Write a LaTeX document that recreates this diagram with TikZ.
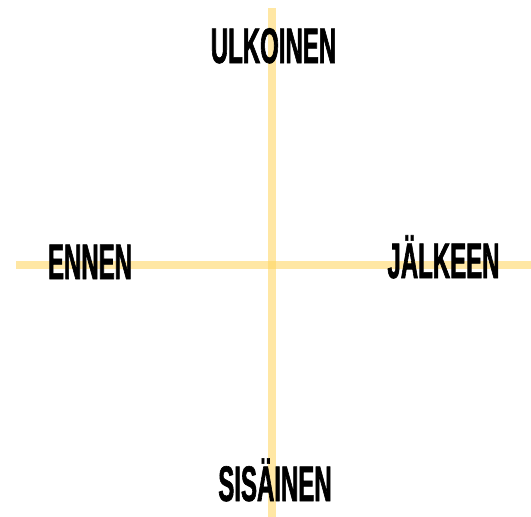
\documentclass[tikz,border=0pt]{standalone}
\usepackage{fontspec}
\usepackage{tikz}
\usetikzlibrary{positioning}
\newfontfamily\axisfont[FakeStretch=0.48,FakeBold=1.2]{Liberation Sans Bold}
\definecolor{axisyellow}{RGB}{255,212,90}

\begin{document}
\begin{tikzpicture}[
    x=1pt, y=-1pt,
    axisline/.style={line width=8pt, draw=axisyellow, draw opacity=0.55},
    pole/.style={font=\axisfont\fontsize{50}{56}\selectfont, text=black,
                 inner sep=0pt, anchor=base}
  ]
    \useasboundingbox (0,0) rectangle (531,517);

    % axis ends
    \coordinate (top)    at (272,8);
    \coordinate (bottom) at (272,517);
    \coordinate (left)   at (16,265);
    \coordinate (right)  at (531,265);

    % axes
    \draw[axisline] (top)  -- (bottom);
    \draw[axisline] (left) -- (right);

    % labels
    \node[pole] (ulkoinen) at (273.5,63)  {ULKOINEN};
    \node[pole] (ennen)    at (90,279)    {ENNEN};
    \node[pole] (jalkeen)  at (443.5,278) {JÄLKEEN};
    \node[pole] (sisainen) at (275,501)   {SISÄINEN};

  \end{tikzpicture}
\end{document}
